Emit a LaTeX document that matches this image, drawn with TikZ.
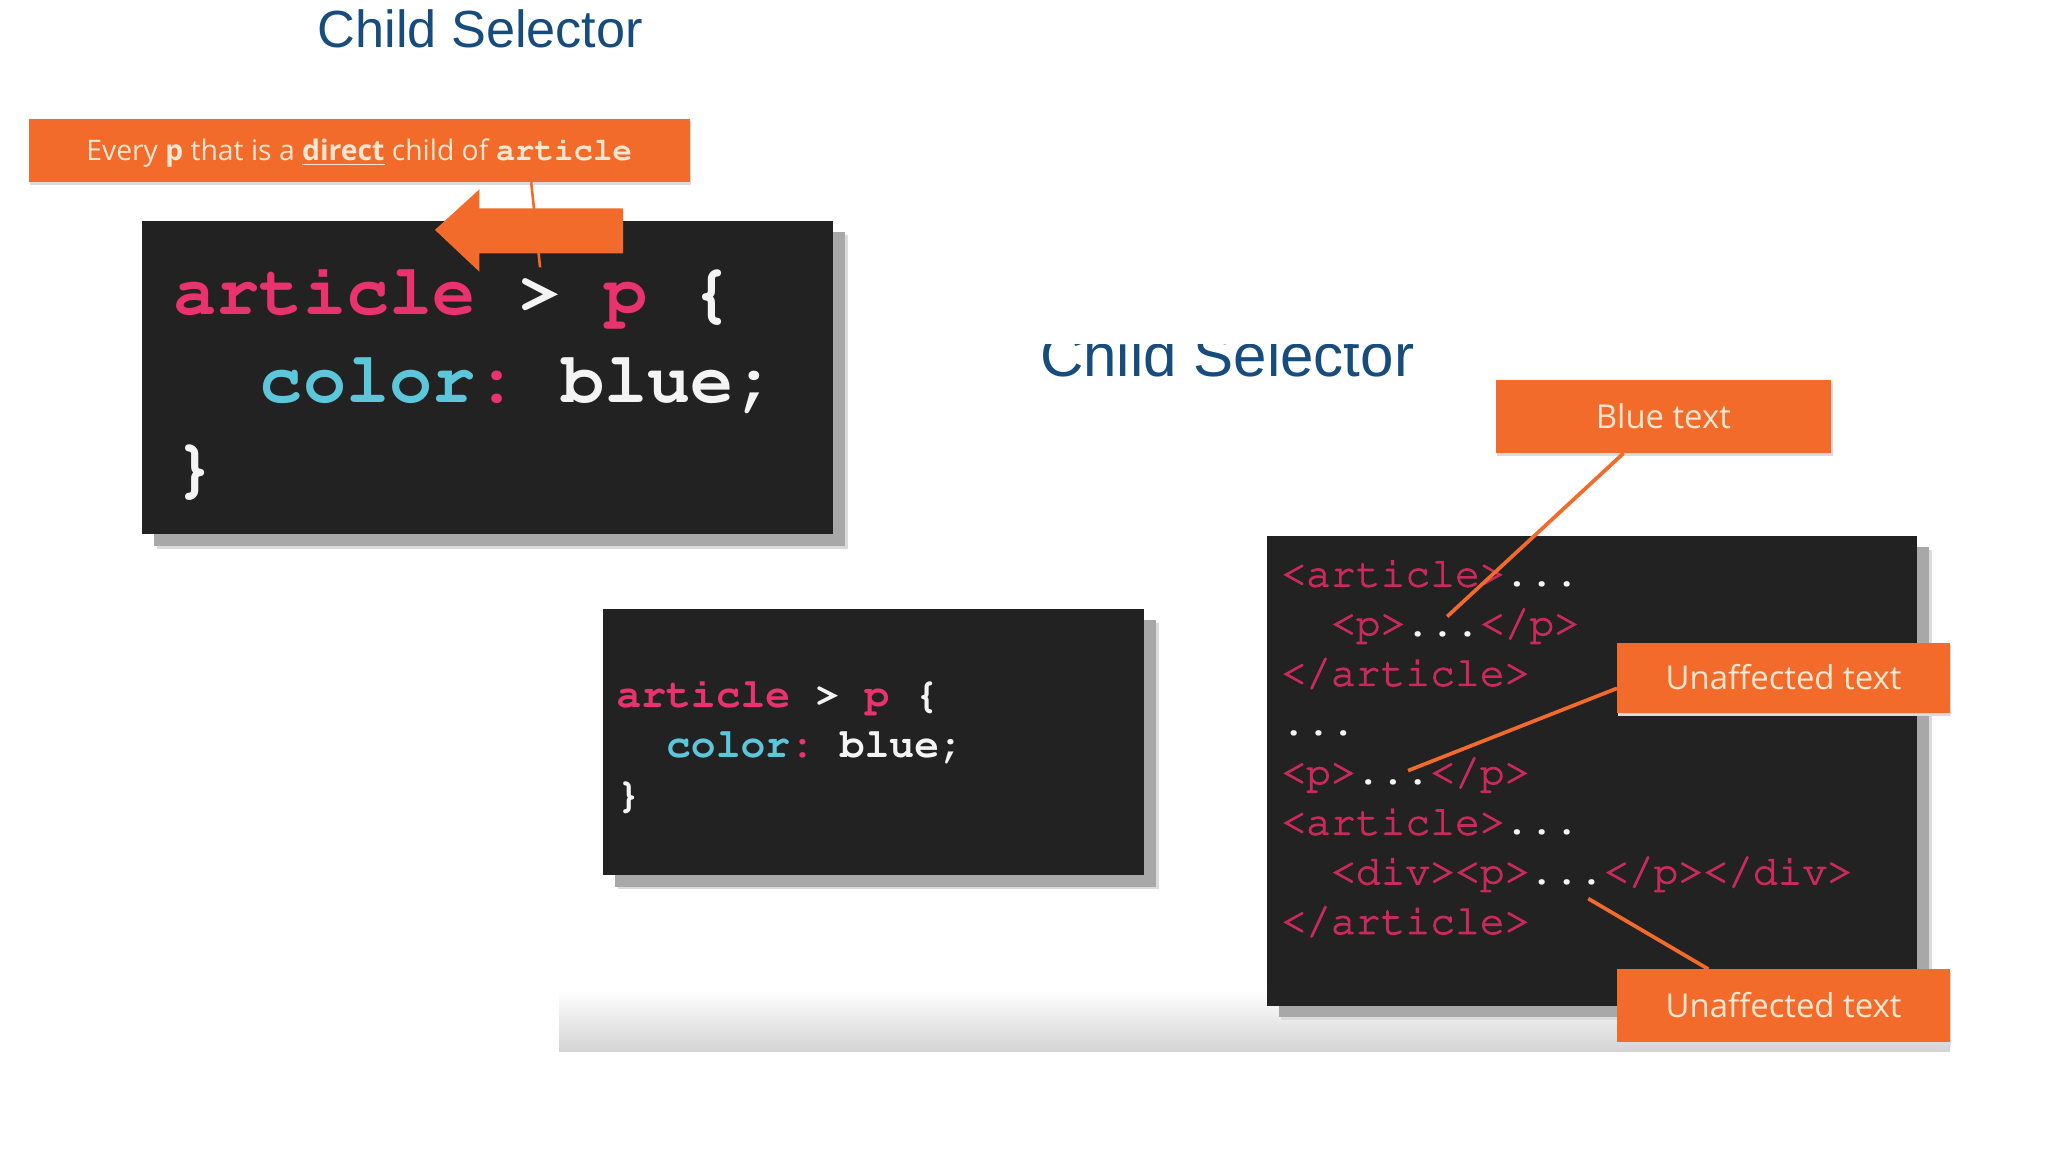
\documentclass[tikz,border=0pt]{standalone}
\usepackage[T1]{fontenc}
\usepackage{fontspec}
\setmainfont{Liberation Sans}
\newfontfamily\osans{Open Sans}
\newcommand\cour{\fontencoding{T1}\fontfamily{pcr}\selectfont}
\usetikzlibrary{calc,shadows}
\definecolor{orng}{HTML}{F26B2B}
\definecolor{cream}{HTML}{FBE6D2}
\definecolor{codebg}{HTML}{222222}
\definecolor{pk}{HTML}{E8336F}
\definecolor{cy}{HTML}{5CC6DB}
\definecolor{wh}{HTML}{F4F4F4}
\definecolor{crim}{HTML}{C82A5C}
\definecolor{ttl}{HTML}{164C7E}
\newcommand\bigcodefont{\cour\bfseries\fontsize{33}{40}\selectfont}
\newcommand\midcodefont{\cour\bfseries\fontsize{19}{23}\selectfont}
\newcommand\rcodefont{\cour\fontsize{19}{23}\selectfont}
\newcommand\wdots{\textcolor{wh}{\bfseries ...}}
\newcommand\heavy[1]{\special{pdf:literal direct 2 Tr 0.45 w}#1\special{pdf:literal direct 0 Tr}}
\begin{document}
\frenchspacing
\begin{tikzpicture}[x=0.6pt,y=-0.6pt,
  codebox/.style={fill=codebg, inner sep=0pt, outer sep=0pt,
    general shadow={fill=black!14, shadow xshift=6.6pt, shadow yshift=-6.6pt},
    general shadow={fill=black!34, shadow xshift=5.4pt, shadow yshift=-5.4pt}},
  callout/.style={fill=orng, text=cream, inner sep=0pt, outer sep=0pt,
    font=\osans\fontsize{15.1}{18}\selectfont, text height=10.8pt, text depth=0pt,
    general shadow={fill=black!14, shadow xshift=0.6pt, shadow yshift=-1.2pt}},
  cl/.style={anchor=base west, inner sep=0pt, outer sep=0pt},
  ttlstyle/.style={anchor=base west, inner sep=0pt, text=ttl},
  ptr/.style={draw=orng, line width=1.7pt}
]
\useasboundingbox (0,0) rectangle (1568,882);
\fill[white] (0,0) rectangle (1568,882);

% bottom gradient band
\shade[top color=white, bottom color=black!17] (428,758) rectangle (1493,805);

% titles
\node[ttlstyle, font=\fontsize{24}{28}\selectfont] (t1) at (243,36) {Child Selector};
\begin{scope}
  \clip (780,264) rectangle (1110,320);
  \node[ttlstyle, font=\fontsize{27.6}{32}\selectfont] (t2) at (796,288) {Child Selector};
\end{scope}

% top-left code box
\node[codebox, minimum width=529*0.6pt, minimum height=240*0.6pt] (c1) at (373.5,289) {};
\node[cl, font=\bigcodefont] (c1a) at (133,241) {\textcolor{pk}{article} \textcolor{wh}{>} \textcolor{pk}{p} \textcolor{wh}{\{}};
\node[cl, font=\bigcodefont] (c1b) at (199,308) {\textcolor{cy}{color}\textcolor{pk}{:} \textcolor{wh}{blue;}};
\node[cl, font=\bigcodefont] (c1c) at (133,375) {\textcolor{wh}{\}}};

% banner
\node[callout, minimum width=506*0.6pt, minimum height=48.5*0.6pt, text height=9.3pt,
  font=\osans\fontsize{13}{16}\selectfont] (ban) at (275,115.25)
  {Every \textbf{p} that is a \textbf{\underline{direct}} child of {\cour\bfseries\fontsize{14.9}{16}\selectfont article}};
\coordinate (banend) at (413.5,204.7);
\draw[draw=orng, line width=1.2pt] ($(ban.south)+(131.7,0)$) -- (banend);
% block arrow
\fill[orng] (333,176) -- (367,145) -- (367,159.6) -- (477,159.6) -- (477,194) -- (367,194) -- (367,208) -- cycle;

% middle code box
\node[codebox, minimum width=414*0.6pt, minimum height=204*0.6pt] (c2) at (669,568) {};
\node[cl, font=\midcodefont] (c2a) at (472,542) {\textcolor{pk}{article} \textcolor{wh}{>} \textcolor{pk}{p} \textcolor{wh}{\{}};
\node[cl, font=\midcodefont] (c2b) at (510,580) {\textcolor{cy}{color}\textcolor{pk}{:} \textcolor{wh}{blue;}};
\node[cl, font=\midcodefont] (c2c) at (472,618) {\textcolor{wh}{\}}};

% right code box
\node[codebox, minimum width=498*0.6pt, minimum height=360*0.6pt] (c3) at (1219,590) {};
\begin{scope}[every node/.style={cl, font=\rcodefont, text=crim}]
\node (r0) at (981,449)   {\heavy{<article>}\wdots};
\node (r1) at (1019,487)  {\heavy{<p>}\wdots\heavy{</p>}};
\node (r2) at (981,525)   {\heavy{</article>}};
\node (r3) at (981,563)   {\wdots};
\node (r4) at (981,601)   {\heavy{<p>}\wdots\heavy{</p>}};
\node (r5) at (981,639)   {\heavy{<article>}\wdots};
\node (r6) at (1019,677)  {\heavy{<div><p>}\wdots\heavy{</p></div>}};
\node (r7) at (981,715)   {\heavy{</article>}};
\end{scope}

% callouts
\node[callout, minimum width=257*0.6pt, minimum height=56*0.6pt] (blue) at (1273.5,319) {Blue text};
\node[callout, minimum width=255*0.6pt, minimum height=54*0.6pt] (un1) at (1365.5,519) {Unaffected text};
\node[callout, minimum width=255*0.6pt, minimum height=56*0.6pt] (un2) at (1365.5,770) {Unaffected text};

\coordinate (bt) at (1108,472);
\coordinate (u1t) at (1078,590);
\coordinate (u2t) at (1216,688);
\draw[ptr] ($(blue.south)+(-30.5,0)$) -- (bt);
\draw[ptr] ($(un1.west)+(0,8)$) -- (u1t);
\draw[ptr] ($(un2.north)+(-57.5,0)$) -- (u2t);
\end{tikzpicture}
\end{document}
